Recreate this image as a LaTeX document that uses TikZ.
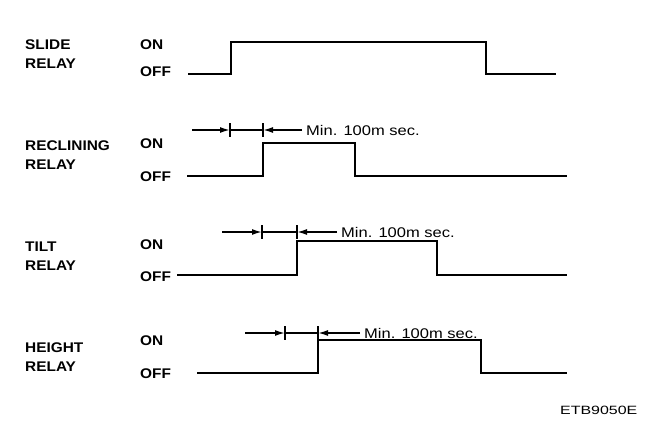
\documentclass[tikz,border=0pt]{standalone}
\usepackage{fontspec}
\setmainfont{Liberation Sans}
\newfontfamily\widefont[FakeStretch=1.1]{Liberation Sans}
\newfontfamily\notefont[FakeStretch=1.18]{Liberation Sans}
\newfontfamily\codefont[FakeStretch=1.33]{Liberation Sans}
\usetikzlibrary{arrows.meta}

\begin{document}
\begin{tikzpicture}[x=1pt,y=-1pt,
  relay/.style={anchor=west,align=left,inner sep=0pt,
    font=\widefont\bfseries\fontsize{14}{19}\selectfont},
  state/.style={anchor=west,inner sep=0pt,
    font=\widefont\bfseries\fontsize{14}{16}\selectfont},
  note/.style={anchor=west,inner sep=0pt,inner xsep=4pt,
    font=\notefont\fontsize{14}{16}\selectfont},
  wave/.style={line width=2.4pt},
  dim/.style={line width=1.6pt},
  tick/.style={line width=1.4pt}]
  \useasboundingbox (0,0) rectangle (672,440);
  % relay names and ON/OFF levels
  \foreach \n/\txt/\y/\yon/\yoff in {slide/SLIDE/54/45/72,
      recl/RECLINING/155/144/177,
      tilt/TILT/256/245/277,
      height/HEIGHT/357/341/374}{
    \node[relay] (name-\n) at (25,\y) {\txt\\RELAY};
    \node[state] (on-\n) at (140,\yon) {ON};
    \node[state] (off-\n) at (140,\yoff) {OFF};
  }
  % waveforms: start, off level, rise, on level, fall, end
  \foreach \xs/\yoff/\xr/\yon/\xf/\xe in {188/74/231/42/486/556,
      187/176/263/143/355/567,
      177/275/297/241/437/567,
      197/373/318/340/481/567}{
    \draw[wave] (\xs,\yoff) -- (\xr,\yoff) -- (\xr,\yon) -- (\xf,\yon)
      -- (\xf,\yoff) -- (\xe,\yoff);
  }
  % min. delay between relays
  \foreach \n/\y/\xa/\xb/\xc/\xd in {recl/130/192/230/263/302,
      tilt/232/222/262/297/337,
      height/333/245/285/318/360}{
    \node[note] (min-\n) at (\xd,\y) {Min. 100m sec.};
    \draw[dim,-{Latex[length=10pt,width=6pt]}] (\xa,\y) -- (\xb,\y);
    \draw[dim] (\xb,\y) -- (\xc,\y);
    \draw[dim,-{Latex[length=10pt,width=6pt]}] (min-\n.west) -- (\xc,\y);
    \draw[tick] (\xb,\y-7) -- (\xb,\y+7);
    \draw[tick] (\xc,\y-7) -- (\xc,\y+7);
  }
  \node[anchor=west,inner sep=0pt,font=\codefont\fontsize{12}{14}\selectfont]
    (code) at (560,410) {ETB9050E};
\end{tikzpicture}
\end{document}
